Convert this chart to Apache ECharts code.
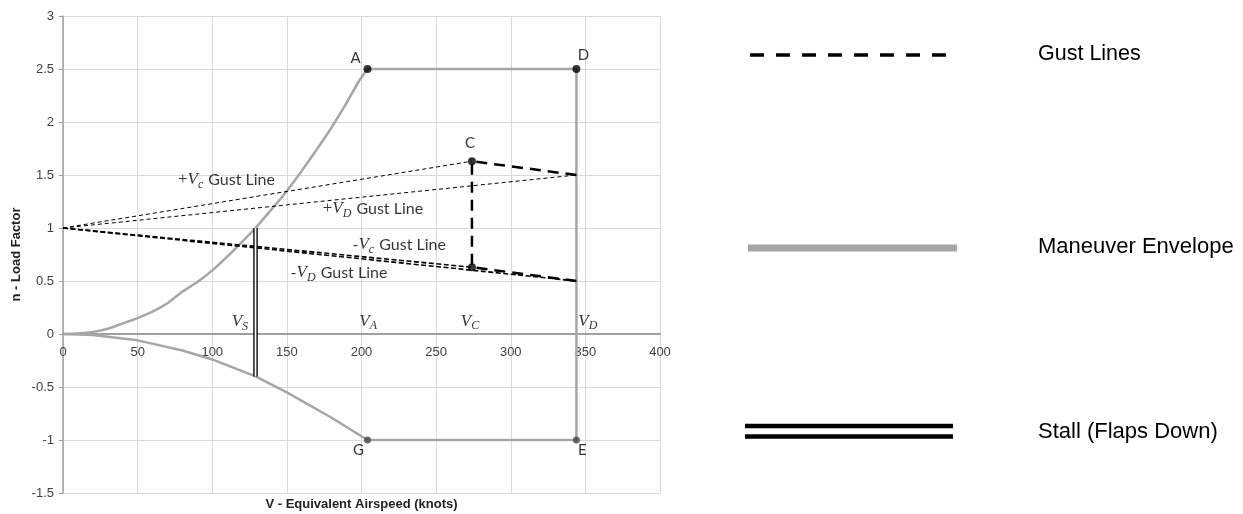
<!DOCTYPE html>
<html>
<head>
<meta charset="utf-8">
<script src="https://cdn.jsdelivr.net/npm/echarts@6/dist/echarts.min.js"></script>
<style>
html,body{margin:0;padding:0;background:#fff;}
#chart{width:1243px;height:514px;}
</style>
</head>
<body>
<div id="chart"></div>
<script>
// ---- data ----
const xTicks = [0, 50, 100, 150, 200, 250, 300, 350, 400];
const yTicks = [-1.5, -1, -0.5, 0, 0.5, 1, 1.5, 2, 2.5, 3];

// maneuver envelope, positive stall curve
const vPos = [0, 10, 20, 30, 40, 50, 60, 70, 80, 90, 100, 110, 120, 129, 140, 150, 160, 170, 180, 190, 198, 204];
const nPos = [0, 0.005, 0.02, 0.05, 0.1, 0.15, 0.21, 0.29, 0.4, 0.49, 0.6, 0.73, 0.87, 1.0, 1.18, 1.35, 1.54, 1.74, 1.95, 2.18, 2.38, 2.5];
// maneuver envelope, negative stall curve
const vNeg = [0, 20, 50, 80, 100, 129, 150, 180, 204];
const nNeg = [0, -0.01, -0.06, -0.155, -0.24, -0.4, -0.55, -0.79, -1.0];
// maneuver envelope, A -> D -> E -> G
const vEnv = [204, 344, 344, 204];
const nEnv = [2.5, 2.5, -1, -1];

// gust lines (start at n = 1)
const gustPlusVc = [[0, 1], [274, 1.63]];
const gustPlusVd = [[0, 1], [344, 1.5]];
const gustMinusVc = [[0, 1], [274, 0.63]];
const gustMinusVd = [[0, 1], [344, 0.5]];
// gust envelope (heavy dashed)
const gustEnvV = [344, 274, 274, 344];
const gustEnvN = [1.5, 1.63, 0.63, 0.5];

// stall (flaps down)
const stallV = [129, 129];
const stallN = [1.0, -0.4];

// labelled points
const pointNames = ['A', 'D', 'C', '', 'G', 'E'];
const pointV = [204, 344, 274, 274, 204, 344];
const pointN = [2.5, 2.5, 1.63, 0.63, -1, -1];

// annotation texts
const annoText = [
  '{p|+}{v|V}{s|c}{t| Gust Line}',
  '{p|+}{v|V}{s|D}{t| Gust Line}',
  '{t|-}{v|V}{s|c}{t| Gust Line}',
  '{t|-}{v|V}{s|D}{t| Gust Line}',
  '{v|V}{s|S}',
  '{v|V}{s|A}',
  '{v|V}{s|C}',
  '{v|V}{s|D}'
];
const annoV = [77, 174, 194, 152.5, 113, 198.5, 266.5, 345.3];
const annoN = [1.453, 1.18, 0.84, 0.58, 0.116, 0.12, 0.12, 0.12];

// ---- chart ----
const zip = (a, b) => a.map((v, i) => [v, b[i]]);
const grey = '#a6a6a6';
const envStyle = { color: grey, width: 2.5 };

const rich = {
  p: { fontFamily: 'Liberation Serif', fontSize: 17, color: '#000', lineHeight: 22 },
  v: { fontFamily: 'Liberation Serif', fontStyle: 'italic', fontSize: 17, color: '#000', lineHeight: 22 },
  s: { fontFamily: 'Liberation Serif', fontStyle: 'italic', fontSize: 12, color: '#000', lineHeight: 12, verticalAlign: 'bottom', padding: [0, 1, 0, 0] },
  t: { fontFamily: 'Lato', fontSize: 16, color: '#000', lineHeight: 22 }
};

const pointOffsets = { A: [-12, -11], D: [7, -14], C: [-2, -18], G: [-9, 10], E: [6, 10], '': [0, 0] };

const gridTop = 16, gridBottom = 21, H = 514;
const plotH = H - gridTop - gridBottom;
const zeroOffset = -plotH * (0 - yTicks[0]) / (yTicks[yTicks.length - 1] - yTicks[0]);

const chart = echarts.init(document.getElementById('chart'));
chart.setOption({
  animation: false,
  backgroundColor: '#fff',
  grid: { left: 63, right: 583, top: gridTop, bottom: gridBottom, containLabel: false, outerBoundsMode: 'none' },
  xAxis: {
    type: 'value', min: xTicks[0], max: xTicks[xTicks.length - 1], interval: 50,
    position: 'bottom', offset: zeroOffset,
    name: 'V - Equivalent Airspeed (knots)', nameLocation: 'middle', nameGap: 164,
    nameTextStyle: { fontFamily: 'Liberation Sans', fontWeight: 'bold', fontSize: 13, color: '#222' },
    axisLine: { onZero: false, lineStyle: { color: '#a0a0a0', width: 2 } },
    axisTick: { show: false },
    axisLabel: { fontFamily: 'Liberation Sans', fontSize: 13, color: '#404040', margin: 12 },
    splitLine: { lineStyle: { color: '#d9d9d9', width: 1 } }
  },
  yAxis: {
    type: 'value', min: yTicks[0], max: yTicks[yTicks.length - 1], interval: 0.5,
    name: 'n - Load Factor', nameLocation: 'middle', nameGap: 40,
    nameTextStyle: { fontFamily: 'Liberation Sans', fontWeight: 'bold', fontSize: 13, color: '#222' },
    axisLine: { show: true, onZero: false, lineStyle: { color: '#a0a0a0', width: 1.5 } },
    axisTick: { show: true, length: 4, lineStyle: { color: '#a0a0a0' } },
    axisLabel: { fontFamily: 'Liberation Sans', fontSize: 13, color: '#404040', margin: 9 },
    splitLine: { lineStyle: { color: '#d9d9d9', width: 1 } }
  },
  series: [
    { type: 'line', name: 'posCurve', data: zip(vPos, nPos), symbol: 'none', smooth: 0.15, lineStyle: envStyle, z: 3 },
    { type: 'line', name: 'negCurve', data: zip(vNeg, nNeg), symbol: 'none', lineStyle: envStyle, z: 3 },
    { type: 'line', name: 'envelope', data: zip(vEnv, nEnv), symbol: 'none', lineStyle: envStyle, z: 3 },
    { type: 'line', name: '+Vc', data: gustPlusVc, symbol: 'none', lineStyle: { color: '#000', width: 1, type: [4, 3] }, z: 4 },
    { type: 'line', name: '+Vd', data: gustPlusVd, symbol: 'none', lineStyle: { color: '#000', width: 1, type: [4, 3] }, z: 4 },
    { type: 'line', name: '-Vc', data: gustMinusVc, symbol: 'none', lineStyle: { color: '#000', width: 1.6, type: [5, 2.5] }, z: 4 },
    { type: 'line', name: '-Vd', data: gustMinusVd, symbol: 'none', lineStyle: { color: '#000', width: 1.6, type: [5, 2.5] }, z: 4 },
    { type: 'line', name: 'gustEnv', data: zip(gustEnvV, gustEnvN), symbol: 'none', lineStyle: { color: '#000', width: 2.5, type: [11, 7] }, z: 5 },
    { type: 'line', name: 'stallOuter', data: zip(stallV, stallN), symbol: 'none', lineStyle: { color: '#000', width: 4.5, cap: 'butt' }, z: 6 },
    { type: 'line', name: 'stallInner', data: zip(stallV, stallN), symbol: 'none', lineStyle: { color: '#fff', width: 1.8, cap: 'butt' }, z: 7 },
    {
      type: 'scatter', name: 'points', symbol: 'circle', symbolSize: 8, z: 8,
      itemStyle: { color: '#000' },
      data: pointNames.map((nm, i) => ({
        value: [pointV[i], pointN[i]],
        itemStyle: { color: (nm === 'G' || nm === 'E') ? '#444' : '#000' },
        symbolSize: (nm === 'G' || nm === 'E') ? 7 : 8,
        label: {
          show: nm !== '', formatter: nm, position: 'inside',
          offset: pointOffsets[nm], fontFamily: 'Lato', fontSize: 15, color: '#000'
        }
      }))
    },
    {
      type: 'scatter', name: 'annotations', symbolSize: 0, z: 9, silent: true,
      data: annoText.map((t, i) => ({
        value: [annoV[i], annoN[i]],
        label: { show: true, formatter: t, position: 'right', distance: 0, rich: rich }
      }))
    }
  ],
  graphic: [
    { type: 'line', shape: { x1: 750, y1: 55, x2: 958, y2: 55 }, style: { stroke: '#000', lineWidth: 3.5, lineDash: [14, 12] } },
    { type: 'text', left: 1038, top: 43, style: { text: 'Gust Lines', font: '21.5px "Liberation Sans"', fill: '#000' } },
    { type: 'line', shape: { x1: 748, y1: 248, x2: 957, y2: 248 }, style: { stroke: grey, lineWidth: 7 } },
    { type: 'text', left: 1038, top: 236, style: { text: 'Maneuver Envelope', font: '22px "Liberation Sans"', fill: '#000' } },
    { type: 'line', shape: { x1: 745, y1: 426, x2: 953, y2: 426 }, style: { stroke: '#000', lineWidth: 4.5 } },
    { type: 'line', shape: { x1: 745, y1: 436.5, x2: 953, y2: 436.5 }, style: { stroke: '#000', lineWidth: 4.5 } },
    { type: 'text', left: 1038, top: 421, style: { text: 'Stall (Flaps Down)', font: '22px "Liberation Sans"', fill: '#000' } }
  ]
});
</script>
</body>
</html>
